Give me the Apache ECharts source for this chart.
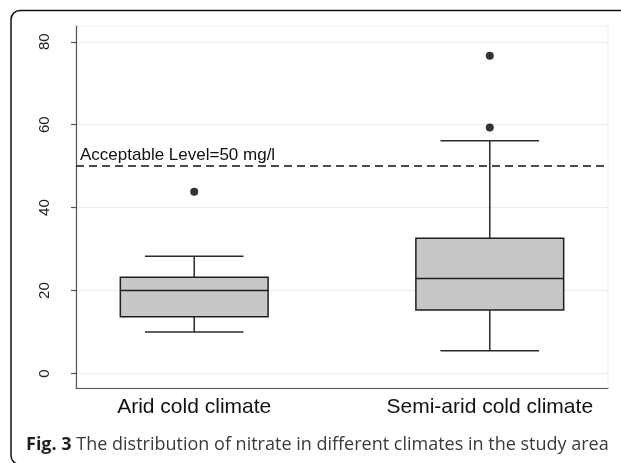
<!DOCTYPE html>
<html><head><meta charset="utf-8">
<script src="https://cdn.jsdelivr.net/npm/echarts@6/dist/echarts.min.js"></script>
<style>html,body{margin:0;padding:0;background:#fff}#c{width:621px;height:463px}</style>
</head><body><div id="c"></div>
<script>
const categories = ['Arid cold climate', 'Semi-arid cold climate'];
const categoryX = [1, 2];
const whiskerLow = [10.0, 5.5];
const q1 = [13.7, 15.3];
const median = [20.0, 22.9];
const q3 = [23.2, 32.6];
const whiskerHigh = [28.3, 56.1];
const outlierGroup = [0, 1, 1];
const outlierValue = [43.8, 59.3, 76.6];
const yTicks = [0, 20, 40, 60, 80];
const acceptableLevel = 50;
const acceptableLabel = 'Acceptable Level=50 mg/l';
const captionBold = 'Fig. 3';
const captionText = 'The distribution of nitrate in different climates in the study area';

const boxData = categories.map((c, i) => [categoryX[i], whiskerLow[i], q1[i], median[i], q3[i], whiskerHigh[i]]);
const outlierData = outlierGroup.map((g, i) => [categoryX[g], outlierValue[i]]);

function renderBox(params, api) {
  const x = api.value(0);
  const lo = api.coord([x, api.value(1)]);
  const b1 = api.coord([x, api.value(2)]);
  const md = api.coord([x, api.value(3)]);
  const b3 = api.coord([x, api.value(4)]);
  const hi = api.coord([x, api.value(5)]);
  const boxW = api.size([0.5, 0])[0];
  const capW = api.size([1 / 3, 0])[0];
  const cx = lo[0];
  const line = { stroke: '#2b2b2b', lineWidth: 1.5 };
  return { type: 'group', children: [
    { type: 'line', shape: { x1: cx, y1: lo[1], x2: cx, y2: b1[1] }, style: line },
    { type: 'line', shape: { x1: cx, y1: b3[1], x2: cx, y2: hi[1] }, style: line },
    { type: 'line', shape: { x1: cx - capW / 2, y1: lo[1], x2: cx + capW / 2, y2: lo[1] }, style: line },
    { type: 'line', shape: { x1: cx - capW / 2, y1: hi[1], x2: cx + capW / 2, y2: hi[1] }, style: line },
    { type: 'rect', shape: { x: cx - boxW / 2, y: b3[1], width: boxW, height: b1[1] - b3[1] }, style: { fill: '#c6c7c6', stroke: '#1e1e1e', lineWidth: 1.5 } },
    { type: 'line', shape: { x1: cx - boxW / 2, y1: md[1], x2: cx + boxW / 2, y2: md[1] }, style: { stroke: '#1e1e1e', lineWidth: 1.5 } }
  ] };
}

const chart = echarts.init(document.getElementById('c'), null, { renderer: 'canvas' });
chart.setOption({
  animation: false,
  backgroundColor: '#fff',
  title: {
    text: '{b|' + captionBold + '}{n| ' + captionText + '}',
    left: 26, top: 434, padding: 0,
    textStyle: {
      fontWeight: 'normal',
      rich: {
        b: { fontFamily: 'Open Sans', fontWeight: 'bold', fontSize: 18, color: '#231f20', lineHeight: 22 },
        n: { fontFamily: 'Open Sans', fontWeight: 'normal', fontSize: 18, color: '#3a3a3a', lineHeight: 22 }
      }
    }
  },
  graphic: [{
    type: 'rect', silent: true, z: -1,
    shape: { x: 11, y: 10.5, width: 640, height: 454, r: 9 },
    style: { fill: 'none', stroke: '#111', lineWidth: 1.5 }
  }],
  grid: { left: 76, right: 13, top: 26, bottom: 75, show: true, borderColor: '#ececec', borderWidth: 1 },
  xAxis: {
    type: 'value', min: 0.6, max: 2.4,
    axisLine: { show: true, onZero: false, lineStyle: { color: '#555', width: 1.2 } },
    axisTick: { show: false },
    splitLine: { show: false },
    axisLabel: {
      customValues: categoryX,
      formatter: v => { const i = categoryX.indexOf(v); return i >= 0 ? categories[i] : ''; },
      fontFamily: 'Liberation Sans', fontSize: 21, color: '#111', margin: 9
    }
  },
  yAxis: {
    type: 'value', min: -3.5, max: 83.8,
    axisLine: { show: true, onZero: false, lineStyle: { color: '#555', width: 1.2 } },
    axisTick: { show: true, customValues: yTicks, length: 5, lineStyle: { color: '#555', width: 1.2 } },
    splitLine: { show: true, lineStyle: { color: '#ececec', width: 1 } },
    axisLabel: {
      customValues: yTicks, rotate: 90, margin: 24,
      fontFamily: 'Liberation Sans', fontSize: 15, color: '#222'
    }
  },
  series: [
    {
      type: 'custom', renderItem: renderBox, data: boxData,
      encode: { x: 0, y: [1, 2, 3, 4, 5] }, silent: true
    },
    {
      type: 'scatter', data: outlierData, symbolSize: 8, silent: true,
      itemStyle: { color: '#000' }, z: 5,
      markLine: {
        silent: true, symbol: ['none', 'none'],
        lineStyle: { type: [8, 5], color: '#111', width: 1.5 },
        label: {
          show: true, position: 'insideStartTop', formatter: acceptableLabel,
          fontFamily: 'Liberation Sans', fontSize: 17, color: '#111', distance: [4, 2]
        },
        data: [{ yAxis: acceptableLevel }]
      }
    }
  ]
});
</script></body></html>
